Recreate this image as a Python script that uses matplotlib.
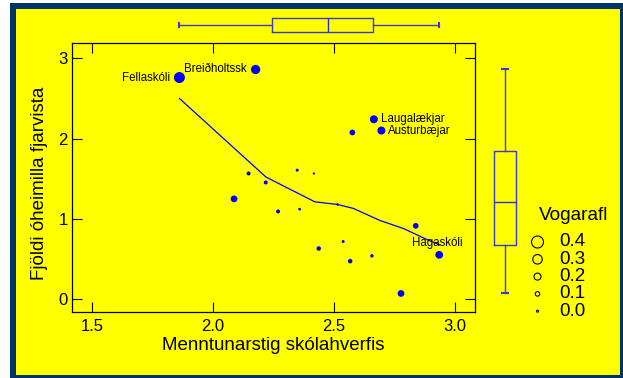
import numpy as np
import matplotlib
matplotlib.use("Agg")
import matplotlib.pyplot as plt
from matplotlib.patches import Rectangle

plt.rcParams['font.family'] = ['Liberation Sans', 'DejaVu Sans']

# school data: education level vs. unauthorised absence, weight = "vogarafl"
menntun = [1.861, 2.176, 2.665, 2.696, 2.576, 2.147, 2.218, 2.348, 2.417, 2.087,
           2.269, 2.358, 2.515, 2.838, 2.538, 2.437, 2.567, 2.657, 2.935, 2.777]
fjarvistir = [2.76, 2.86, 2.24, 2.10, 2.076, 1.565, 1.453, 1.606, 1.565, 1.249,
              1.092, 1.121, 1.179, 0.913, 0.718, 0.631, 0.473, 0.539, 0.552, 0.071]
vogarafl = [0.36, 0.29, 0.24, 0.24, 0.15, 0.08, 0.08, 0.04, 0.01, 0.19,
            0.08, 0.03, 0.02, 0.15, 0.04, 0.10, 0.10, 0.06, 0.23, 0.19]
nofn = ["Fellaskóli", "Breiðholtssk", "Laugalækjar", "Austurbæjar", "", "", "", "", "", "",
        "", "", "", "", "", "", "", "", "Hagaskóli", ""]

# smoothed curve
smooth_x = [1.861, 2.218, 2.263, 2.421, 2.515, 2.580, 2.690, 2.787, 2.890, 2.935]
smooth_y = [2.50, 1.523, 1.453, 1.212, 1.179, 1.130, 0.980, 0.880, 0.735, 0.680]

xticks = [1.5, 2.0, 2.5, 3.0]
xticklabels = ["1.5", "2.0", "2.5", "3.0"]
yticks = [0, 1, 2, 3]
legend_vals = [0.4, 0.3, 0.2, 0.1, 0.0]

W, H = 623, 378
YEL = '#ffff00'
BLUE = '#0000ff'


def box(px_left, px_top, px_right, px_bottom):
    return [px_left / W, 1 - px_bottom / H, (px_right - px_left) / W, (px_bottom - px_top) / H]


def msize(w):
    d = 2 + 25 * w  # diameter in px
    return (d * 0.72) ** 2


def tukey_stats(v):
    s = np.sort(np.asarray(v))
    n = len(s)
    q1 = np.median(s[:(n + 1) // 2])
    q3 = np.median(s[n // 2:])
    iqr = q3 - q1
    lo = s[s >= q1 - 1.5 * iqr].min()
    hi = s[s <= q3 + 1.5 * iqr].max()
    return [dict(med=np.median(s), q1=q1, q3=q3, whislo=lo, whishi=hi, fliers=[])]


fig = plt.figure(figsize=(W / 100, H / 100), dpi=100)
fig.patch.set_facecolor('white')
fig.add_artist(Rectangle((10 / W, 0), 1, 1 - 3 / H, transform=fig.transFigure,
                         facecolor='#003366', edgecolor='none', zorder=-20))
fig.add_artist(Rectangle((16 / W, 3 / H), (620 - 16) / W, (375 - 9) / H,
                         transform=fig.transFigure, facecolor=YEL, edgecolor='none', zorder=-19))

xlim = (1.417, 3.083)
ylim = (-0.16, 3.19)

ax = fig.add_axes(box(72, 43, 475, 312))
ax.set_facecolor(YEL)
ax.scatter(menntun, fjarvistir, s=[msize(w) for w in vogarafl], color=BLUE,
           edgecolors='none', zorder=3)
ax.plot(smooth_x, smooth_y, color=BLUE, lw=0.9, zorder=2)

for x, y, n in zip(menntun, fjarvistir, nofn):
    if not n:
        continue
    if n in ("Fellaskóli", "Breiðholtssk"):
        ax.annotate(n, (x, y), xytext=(-6.5, 0), textcoords='offset points',
                    ha='right', va='center', fontsize=8.3)
    elif n == "Hagaskóli":
        ax.annotate(n, (x, y), xytext=(-1, 8.8), textcoords='offset points',
                    ha='center', va='center', fontsize=8.3)
    else:
        ax.annotate(n, (x, y), xytext=(5, 0), textcoords='offset points',
                    ha='left', va='center', fontsize=8.3)

ax.set_xlim(*xlim)
ax.set_ylim(*ylim)
ax.set_xticks(xticks)
ax.set_xticklabels(xticklabels)
ax.set_yticks(yticks)
ax.tick_params(direction='in', length=7.2, width=0.8, top=True, right=True,
               labelsize=12, pad=3)
ax.tick_params(axis='x', pad=5)
for sp in ax.spines.values():
    sp.set_linewidth(0.9)
ax.set_xlabel("Menntunarstig skólahverfis", fontsize=13.5, labelpad=2)
fig.text(40 / W, 1 - 183 / H, "Fjöldi óheimilla fjarvista", rotation=90,
         ha='center', va='center', fontsize=13.5)

bstyle = dict(boxprops=dict(color='#3a3ad0', lw=1.0),
              whiskerprops=dict(color='#3a3ad0', lw=1.0),
              capprops=dict(color='#3a3ad0', lw=1.5),
              medianprops=dict(color='#2a2ae0', lw=1.0))

# marginal box plot on top (x)
axt = fig.add_axes(box(72, 14, 475, 36))
axt.bxp(tukey_stats(menntun), positions=[0], widths=1.245, capwidths=0.36,
        orientation='horizontal', showfliers=False, **bstyle)
axt.set_xlim(*xlim)
axt.set_ylim(-1, 1)
axt.axis('off')

# marginal box plot on the right (y)
axr = fig.add_axes(box(484, 43, 526, 312))
axr.bxp(tukey_stats(fjarvistir), positions=[0], widths=1.02, capwidths=0.24,
        showfliers=False, **bstyle)
axr.set_ylim(*ylim)
axr.set_xlim(-1, 1)
axr.axis('off')

# weight legend drawn in pixel space
axl = fig.add_axes([0, 0, 1, 1], zorder=-5)
axl.set_xlim(0, W)
axl.set_ylim(H, 0)
axl.axis('off')
axl.text(539, 216, "Vogarafl", fontsize=13.7, va='center', ha='left')
for i, v in enumerate(legend_vals):
    yy = 242 + i * 17.3
    axl.scatter([537.5], [yy], s=msize(v), facecolors='none', edgecolors='black',
                linewidths=0.8)
    axl.text(559, yy, f"{v:.1f}", fontsize=13.5, va='center', ha='left')

fig.savefig("out.png", dpi=100, facecolor=fig.get_facecolor())
